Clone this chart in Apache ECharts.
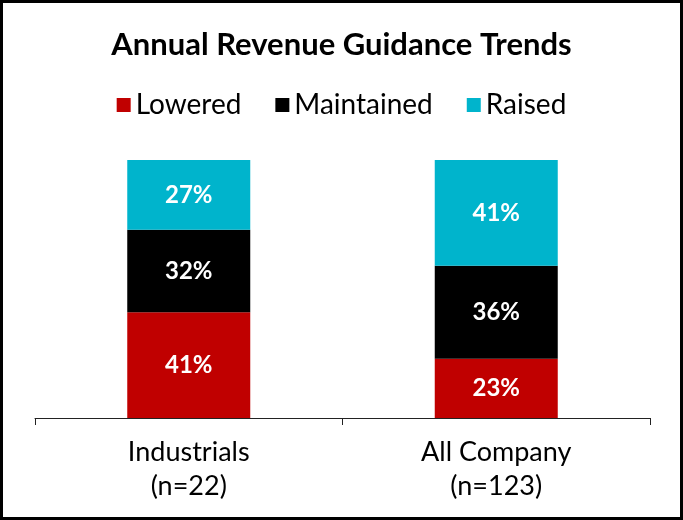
<!DOCTYPE html>
<html>
<head>
<meta charset="utf-8">
<script src="https://cdn.jsdelivr.net/npm/echarts@6/dist/echarts.min.js"></script>
<style>
  html, body { margin: 0; padding: 0; background: #fff; }
  #chart { width: 683px; height: 520px; box-sizing: border-box; border: 3px solid #000; }
</style>
</head>
<body>
<div id="chart"></div>
<script>
var categories = ['Industrials\n(n=22)', 'All Company\n(n=123)'];
var lowered = [41, 23];
var maintained = [32, 36];
var raised = [27, 41];

var labelStyle = {
    show: true,
    position: 'inside',
    formatter: '{c}%',
    color: '#fff',
    fontFamily: 'Lato',
    fontWeight: 'bold',
    fontSize: 24
};

var chart = echarts.init(document.getElementById('chart'));
chart.setOption({
    animation: false,
    title: {
        left: 'center',
        top: 21,
        text: 'Annual Revenue Guidance Trends',
        textStyle: {
            fontFamily: 'Lato',
            fontWeight: 'bold',
            fontSize: 31,
            color: '#000'
        }
    },
    legend: {
        top: 83,
        left: 'center',
        itemWidth: 14,
        itemHeight: 14,
        itemGap: 34,
        icon: 'rect',
        textStyle: {
            fontFamily: 'Lato',
            fontSize: 28,
            color: '#000'
        },
        data: ['Lowered', 'Maintained', 'Raised']
    },
    grid: {left: 32, right: 30, top: 157, bottom: 99},
    xAxis: {
        type: 'category',
        data: categories,
        axisLine: {lineStyle: {color: '#222', width: 1}},
        axisTick: {show: true, length: 7, lineStyle: {color: '#222'}},
        axisLabel: {
            color: '#000',
            fontFamily: 'Lato',
            fontSize: 27,
            lineHeight: 34,
            margin: 17
        }
    },
    yAxis: {
        type: 'value',
        min: 0,
        max: 100,
        show: false
    },
    series: [{
        name: 'Lowered',
        type: 'bar',
        stack: 'total',
        barWidth: '40%',
        itemStyle: {color: '#c00000'},
        label: labelStyle,
        data: lowered
    }, {
        name: 'Maintained',
        type: 'bar',
        stack: 'total',
        itemStyle: {color: '#000000'},
        label: labelStyle,
        data: maintained
    }, {
        name: 'Raised',
        type: 'bar',
        stack: 'total',
        itemStyle: {color: '#00b4cc'},
        label: labelStyle,
        data: raised
    }]
});
</script>
</body>
</html>
